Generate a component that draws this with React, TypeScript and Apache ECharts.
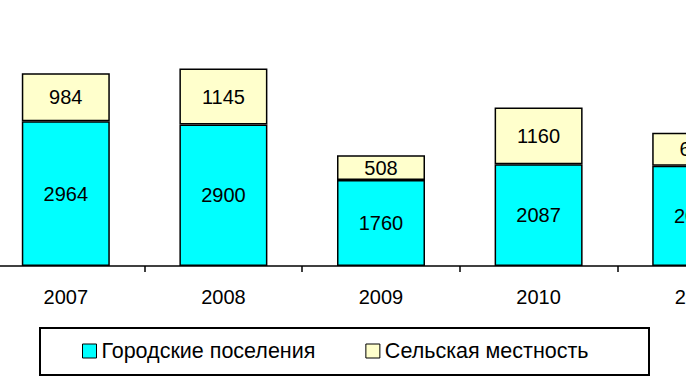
import React, { useEffect, useRef } from "react";
import * as echarts from "echarts";

const categories = ["2007", "2008", "2009", "2010", "2011"];
const urban = [2964, 2900, 1760, 2087, 2055];
const rural = [984, 1145, 508, 1160, 676];
const seriesNames = ["Городские поселения", "Сельская местность"];

const FONT = "'Liberation Sans', Arial, sans-serif";
const OFFSET = 13; // chart canvas is shifted left and wider than the view (cropped original)
const CANVAS_W = 788;

export default function App() {
  const ref = useRef<HTMLDivElement>(null);
  useEffect(() => {
    if (!ref.current) return;
    const chart = echarts.init(ref.current, undefined, { renderer: "svg" });
    const labelStyle = {
      show: true,
      position: "inside" as const,
      color: "#000",
      fontSize: 20,
      fontFamily: FONT,
    };
    chart.setOption({
      animation: false,
      backgroundColor: "#fff",
      grid: { left: 0, right: 0, top: 22, bottom: 120, containLabel: false },
      xAxis: {
        type: "category",
        data: categories,
        axisLine: { lineStyle: { color: "#000", width: 1.5 } },
        axisTick: { show: true, length: 6, lineStyle: { color: "#000", width: 1.5 } },
        axisLabel: { color: "#000", fontSize: 20, fontFamily: FONT, margin: 21 },
      },
      yAxis: {
        type: "value",
        min: 0,
        max: 5000,
        show: false,
        splitLine: { show: false },
      },
      legend: {
        left: 82 + OFFSET,
        top: 340,
        padding: 0,
        itemGap: 50,
        itemWidth: 14,
        itemHeight: 14,
        icon: "rect",
        itemStyle: { borderColor: "#000", borderWidth: 1 },
        textStyle: { color: "#000", fontSize: 21.5, fontFamily: FONT },
        data: seriesNames,
      },
      graphic: [
        {
          type: "rect",
          shape: { x: 40 + OFFSET, y: 328, width: 609, height: 47 },
          style: { fill: "none", stroke: "#000", lineWidth: 2 },
          silent: true,
        },
      ],
      series: [
        {
          name: seriesNames[0],
          type: "bar",
          stack: "total",
          barWidth: 88,
          data: urban,
          itemStyle: { color: "#00FFFF", borderColor: "#000", borderWidth: 1.5 },
          label: labelStyle,
        },
        {
          name: seriesNames[1],
          type: "bar",
          stack: "total",
          barWidth: 88,
          data: rural,
          itemStyle: { color: "#FFFFCC", borderColor: "#000", borderWidth: 1.5 },
          label: labelStyle,
        },
      ],
    });
    return () => chart.dispose();
  }, []);
  return (
    <div style={{ position: "fixed", left: 0, top: 0, width: 686, height: 386, overflow: "hidden", background: "#fff" }}>
      <div ref={ref} style={{ position: "absolute", left: -OFFSET, top: 0, width: CANVAS_W, height: 386 }} />
    </div>
  );
}
